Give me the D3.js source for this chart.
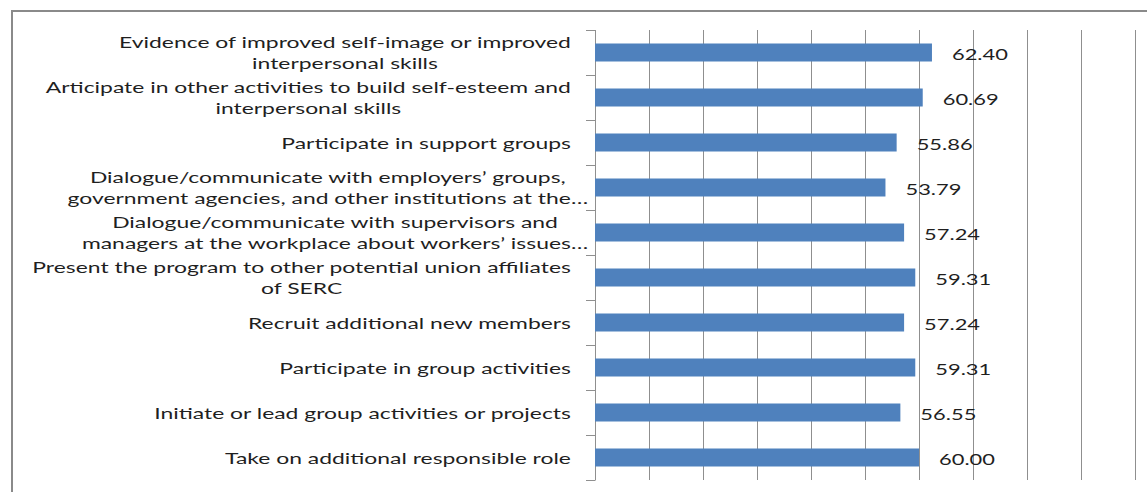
<!DOCTYPE html>
<html>
<head>
<meta charset="utf-8">
<script src="https://cdn.jsdelivr.net/npm/d3@7"></script>
<style>
  html, body { margin: 0; padding: 0; background: #ffffff; }
  svg { display: block; }
  text { font-family: Lato, "Open Sans", "Noto Sans", sans-serif; fill: #1f1f1f; }
</style>
</head>
<body>
<svg id="chart" width="1147" height="492"></svg>
<script>
// Category labels, top to bottom ("\n" marks a wrapped line)
const categories = [
  "Evidence of improved self-image or improved\ninterpersonal skills",
  "Articipate in other activities to build self-esteem and\ninterpersonal skills",
  "Participate in support groups",
  "Dialogue/communicate with employers\u2019 groups,\ngovernment agencies, and other institutions at the\u2026",
  "Dialogue/communicate with supervisors  and\nmanagers at the workplace about workers\u2019 issues\u2026",
  "Present the program to other potential union affiliates\nof SERC",
  "Recruit additional new members",
  "Participate in group activities",
  "Initiate or lead group activities or projects",
  "Take on additional responsible role"
];

// Percentages for each category
const values = [62.40, 60.69, 55.86, 53.79, 57.24, 59.31, 57.24, 59.31, 56.55, 60.00];

// Value-axis gridline positions
const xTicks = [0, 10, 20, 30, 40, 50, 60, 70, 80, 90, 100];

const svg = d3.select("#chart");

const plotTop = 30, plotBottom = 480;
const x = d3.scaleLinear().domain([0, 100]).range([595, 1135]);
const y = d3.scaleBand().domain(categories).range([plotTop, plotBottom])
  .paddingInner(0.6).paddingOuter(0.3);
// category boundaries for the tick marks on the vertical axis
const slots = d3.scaleLinear().domain([0, categories.length]).range([plotTop, plotBottom]);

const gridColor = "#8f8f8f";

// chart area frame (top and left edges)
svg.append("path")
  .attr("d", "M12,492V11H1147")
  .attr("fill", "none")
  .attr("stroke", "#8a8a8a")
  .attr("stroke-width", 2);

// vertical gridlines
const grid = svg.append("g")
  .attr("transform", `translate(0,${plotTop})`)
  .call(d3.axisTop(x).tickValues(xTicks).tickSize(-(plotBottom - plotTop)).tickFormat(""));
grid.select(".domain").remove();
grid.selectAll(".tick line").attr("stroke", gridColor).attr("stroke-width", 1);

// category axis with tick marks between categories
const yAxis = svg.append("g")
  .attr("transform", `translate(${x(0)},0)`)
  .call(d3.axisLeft(slots).ticks(categories.length).tickSize(9).tickSizeOuter(0).tickFormat(""));
yAxis.select(".domain").attr("stroke", gridColor);
yAxis.selectAll(".tick line").attr("stroke", gridColor);

// bars
svg.append("g").selectAll("rect")
  .data(categories)
  .join("rect")
  .attr("x", x(0))
  .attr("y", c => y(c))
  .attr("width", (c, i) => x(values[i]) - x(0))
  .attr("height", y.bandwidth())
  .attr("fill", "#4f81bd");

// text is drawn slightly widened horizontally
const fontSize = 16;
const measure = svg.append("text").attr("font-size", fontSize).attr("visibility", "hidden");
function textWidth(s) { measure.text(s); return measure.node().getComputedTextLength(); }

const catStretch = 452 / textWidth("Evidence of improved self-image or improved");
const valStretch = 56 / textWidth("62.40");
const ellipsisW = textWidth("\u2026") * catStretch;

// value labels
svg.append("g").selectAll("text")
  .data(categories)
  .join("text")
  .attr("font-size", fontSize)
  .attr("dominant-baseline", "central")
  .attr("transform", (c, i) => `translate(${x(values[i]) + 20},${y(c) + y.bandwidth() / 2 + 1}) scale(${valStretch},1)`)
  .text((c, i) => values[i].toFixed(2));

// category labels: lines centred on each other, block right-aligned to the axis
const labelRight = 571, lineGap = 21.5;
const labels = svg.append("g");
categories.forEach(c => {
  const lines = c.split("\n");
  const widths = lines.map(l => textWidth(l) * catStretch);
  const wi = d3.maxIndex(widths);
  const right = labelRight + (lines[wi].endsWith("\u2026") ? ellipsisW : 0);
  const cx = right - widths[wi] / 2;
  const cy = y(c) + y.bandwidth() / 2;
  lines.forEach((l, k) => {
    labels.append("text")
      .attr("font-size", fontSize)
      .attr("text-anchor", "middle")
      .attr("dominant-baseline", "central")
      .attr("transform", `translate(${cx},${cy + (k - (lines.length - 1) / 2) * lineGap}) scale(${catStretch},1)`)
      .text(l);
  });
});
measure.remove();
</script>
</body>
</html>
